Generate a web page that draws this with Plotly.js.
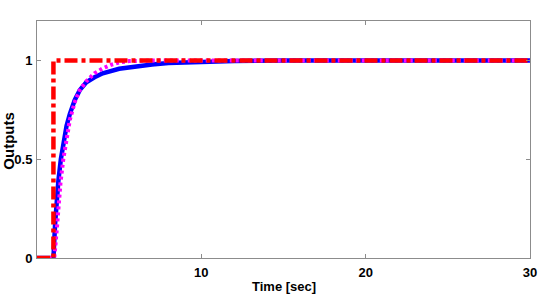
<!DOCTYPE html>
<html>
<head>
<meta charset="utf-8">
<script src="https://cdn.plot.ly/plotly-3.0.1.min.js"></script>
<style>html,body{margin:0;padding:0;background:#fff;}#chart{width:538px;height:301px;}</style>
</head>
<body>
<div id="chart"></div>
<script>
// Reference step input (red dash-dot)
const timeRef = [0, 1, 1, 30];
const outRef  = [0, 0, 1, 1];

// Blue solid response
const timeBlue = [0, 1.0, 1.1, 1.2, 1.3, 1.45, 1.6, 1.8, 2.0, 2.3, 2.6, 3.0, 3.5, 4.0, 5.0, 6.0, 7.0, 8.0, 10, 12, 15, 20, 25, 30];
const outBlue  = [0, 0, 0.17, 0.29, 0.39, 0.50, 0.59, 0.67, 0.73, 0.80, 0.85, 0.89, 0.915, 0.935, 0.958, 0.971, 0.98, 0.987, 0.995, 0.998, 1, 1, 1, 1];

// Magenta dotted response
const timeMag = [0, 1.05, 1.2, 1.3, 1.43, 1.6, 1.83, 2.0, 2.3, 2.6, 3.0, 3.5, 4.0, 4.5, 5.0, 5.6, 7, 10, 15, 20, 30];
const outMag  = [0, 0, 0.14, 0.25, 0.38, 0.50, 0.63, 0.70, 0.79, 0.85, 0.895, 0.935, 0.96, 0.978, 0.99, 0.997, 1, 1, 1, 1, 1];

const xTicks = [10, 20, 30];
const xTickText = ['10', '20', '30'];
const yTicks = [0, 0.5, 1];
const yTickText = ['0', '0.5', '1'];
const xTitle = 'Time [sec]';
const yTitle = 'Outputs';

const bold = arr => arr.map(s => '<b>' + s + '</b>');

const traces = [
  {x: timeBlue, y: outBlue, mode: 'lines', line: {color: '#0000ff', width: 4.5}, hoverinfo: 'skip'},
  {x: timeMag, y: outMag, mode: 'lines', line: {color: '#ff00ff', width: 4, dash: '3px,3px'}, hoverinfo: 'skip'},
  {x: timeRef, y: outRef, mode: 'lines', line: {color: '#ff0000', width: 4.5, dash: '13px,4px,4px,4px'}, hoverinfo: 'skip'}
];

const fam = 'Liberation Sans, Arial, sans-serif';
const axisCommon = {
  showgrid: false, zeroline: false, showline: true, linecolor: '#8c8c8c', linewidth: 1,
  mirror: 'ticks', ticks: 'inside', ticklen: 4, tickcolor: '#8c8c8c', tickwidth: 1,
  tickfont: {family: fam, size: 13, color: '#000', weight: 'bold'}
};

const layout = {
  width: 538, height: 301,
  margin: {l: 37, r: 8, t: 21, b: 43},
  paper_bgcolor: '#fff', plot_bgcolor: '#fff',
  showlegend: false,
  font: {family: fam, size: 13, color: '#000'},
  xaxis: Object.assign({}, axisCommon, {
    range: [0, 30], tickvals: xTicks, ticktext: bold(xTickText), ticklabelstandoff: 2
  }),
  yaxis: Object.assign({}, axisCommon, {
    range: [0, 1.2], tickvals: yTicks, ticktext: bold(yTickText), ticklabelstandoff: 1
  }),
  annotations: [
    {text: '<b>' + xTitle + '</b>', xref: 'paper', yref: 'paper', x: 0.5, y: -0.122,
     xanchor: 'center', yanchor: 'middle', showarrow: false, font: {family: fam, size: 13, color: '#000'}},
    {text: '<b>' + yTitle + '</b>', xref: 'paper', yref: 'paper', x: -0.0568, y: 0.495,
     xanchor: 'center', yanchor: 'middle', textangle: -90, showarrow: false, font: {family: fam, size: 15, color: '#000'}}
  ]
};

Plotly.newPlot('chart', traces, layout, {staticPlot: true, displayModeBar: false});
</script>
</body>
</html>
